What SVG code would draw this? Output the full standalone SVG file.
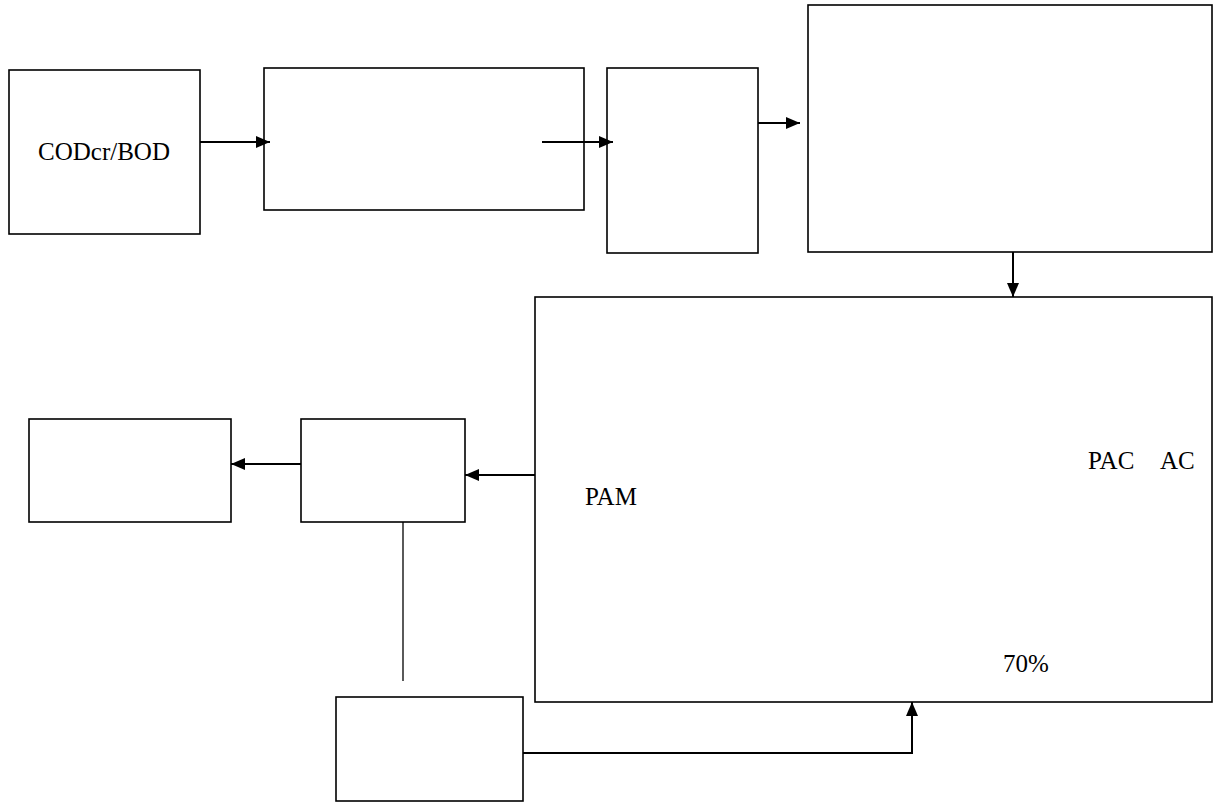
<svg xmlns="http://www.w3.org/2000/svg" width="1216" height="802" viewBox="0 0 1216 802">
<style>
.box{fill:#fff;stroke:#000;stroke-width:1.6}
.ln{fill:none;stroke:#000;stroke-width:2}
.thin{fill:none;stroke:#000;stroke-width:1.3}
text{font-family:"Liberation Serif","Times New Roman",serif;font-size:25px;fill:#000}
</style>
<defs>
<marker id="ah" viewBox="0 0 14 12" refX="14" refY="6" markerWidth="14" markerHeight="12" markerUnits="userSpaceOnUse" orient="auto">
<path d="M0,0 L14,6 L0,12 Z" fill="#000"/>
</marker>
</defs>
<rect width="1216" height="802" fill="#fff"/>
<g id="n1"><rect class="box" x="9" y="70" width="191" height="164"/><text x="38" y="160">CODcr/BOD</text></g>
<g id="n2"><rect class="box" x="264" y="68" width="320" height="142"/></g>
<g id="n3"><rect class="box" x="607" y="68" width="151" height="185"/></g>
<g id="n4"><rect class="box" x="808" y="5" width="404" height="247"/></g>
<g id="n5"><rect class="box" x="535" y="297" width="677" height="405"/>
<text x="1088" y="469">PAC</text><text x="1160" y="469">AC</text>
<text x="585" y="505">PAM</text>
<text x="1003" y="672">70%</text></g>
<g id="n6"><rect class="box" x="301" y="419" width="164" height="103"/></g>
<g id="n7"><rect class="box" x="29" y="419" width="202" height="103"/></g>
<g id="n8"><rect class="box" x="336" y="697" width="187" height="104"/></g>
<g id="connectors">
<line class="ln" x1="200" y1="142" x2="270" y2="142" marker-end="url(#ah)"/>
<line class="ln" x1="542" y1="142" x2="613" y2="142" marker-end="url(#ah)"/>
<line class="ln" x1="758" y1="123" x2="800" y2="123" marker-end="url(#ah)"/>
<line class="ln" x1="1013" y1="252" x2="1013" y2="297" marker-end="url(#ah)"/>
<line class="ln" x1="535" y1="475" x2="465" y2="475" marker-end="url(#ah)"/>
<line class="ln" x1="301" y1="464" x2="231" y2="464" marker-end="url(#ah)"/>
<line class="thin" x1="403" y1="522" x2="403" y2="681"/>
<polyline class="ln" points="523,753 912,753 912,702" marker-end="url(#ah)"/>
</g>
</svg>
